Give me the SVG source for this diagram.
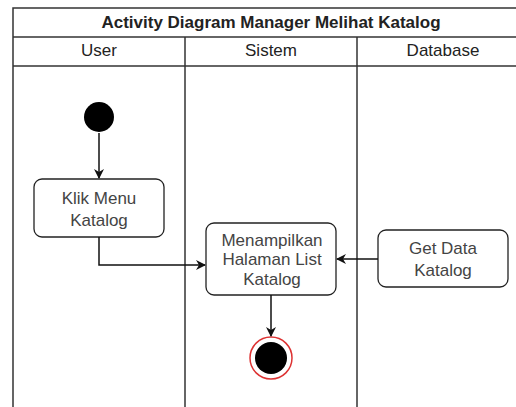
<svg xmlns="http://www.w3.org/2000/svg" width="516" height="407" viewBox="0 0 516 407">
  <style>
    .lane { fill: none; stroke: #333; stroke-width: 1.5; }
    .act { fill: #fff; stroke: #222; stroke-width: 1.3; }
    .txt { font-family: "Liberation Sans", Arial, sans-serif; font-size: 17px; fill: #444; text-anchor: middle; }
    .hdr { font-family: "Liberation Sans", Arial, sans-serif; font-size: 17px; fill: #222; text-anchor: middle; }
    .edge { fill: none; stroke: #111; stroke-width: 1.5; }
  </style>
  <defs>
    <marker id="arrow" viewBox="0 0 10 10" refX="9" refY="5" markerWidth="10" markerHeight="10" markerUnits="userSpaceOnUse" orient="auto">
      <path d="M0,0 L10,5 L0,10 L3,5 Z" fill="#111"/>
    </marker>
  </defs>
  <rect width="516" height="407" fill="#fff"/>

  <!-- swimlane frame -->
  <g id="lanes">
    <rect class="lane" x="13" y="8" width="516" height="410"/>
    <line class="lane" x1="13" y1="37" x2="529" y2="37"/>
    <line class="lane" x1="13" y1="66" x2="529" y2="66"/>
    <line class="lane" x1="185" y1="37" x2="185" y2="410"/>
    <line class="lane" x1="357" y1="37" x2="357" y2="410"/>
    <text class="hdr" x="271" y="28" font-size="16.5" font-weight="bold" fill="#333">Activity Diagram Manager Melihat Katalog</text>
    <text class="hdr" x="99" y="56">User</text>
    <text class="hdr" x="271" y="56">Sistem</text>
    <text class="hdr" x="443" y="56">Database</text>
  </g>

  <g id="start">
    <circle cx="99" cy="117" r="15" fill="#000"/>
  </g>

  <g id="klik-menu">
    <rect class="act" x="34" y="179" width="130" height="58" rx="8"/>
    <text class="txt" x="99" y="204">Klik Menu</text>
    <text class="txt" x="99" y="226">Katalog</text>
  </g>

  <g id="tampil-katalog">
    <rect class="act" x="206" y="223" width="130" height="72" rx="8"/>
    <text class="txt" x="272" y="246">Menampilkan</text>
    <text class="txt" x="272" y="265">Halaman List</text>
    <text class="txt" x="272" y="285">Katalog</text>
  </g>

  <g id="get-data">
    <rect class="act" x="378" y="230" width="130" height="57" rx="8"/>
    <text class="txt" x="443" y="254">Get Data</text>
    <text class="txt" x="443" y="276">Katalog</text>
  </g>

  <g id="end">
    <circle cx="271" cy="358" r="21" fill="#fff" stroke="#d33" stroke-width="1.5"/>
    <circle cx="271" cy="358" r="16" fill="#000"/>
  </g>

  <g id="connectors">
    <path class="edge" d="M99,133 L99,178" marker-end="url(#arrow)"/>
    <path class="edge" d="M99,237 L99,265 L205,265" marker-end="url(#arrow)"/>
    <path class="edge" d="M378,259 L337,259" marker-end="url(#arrow)"/>
    <path class="edge" d="M271,295 L271,336" marker-end="url(#arrow)"/>
  </g>
</svg>
